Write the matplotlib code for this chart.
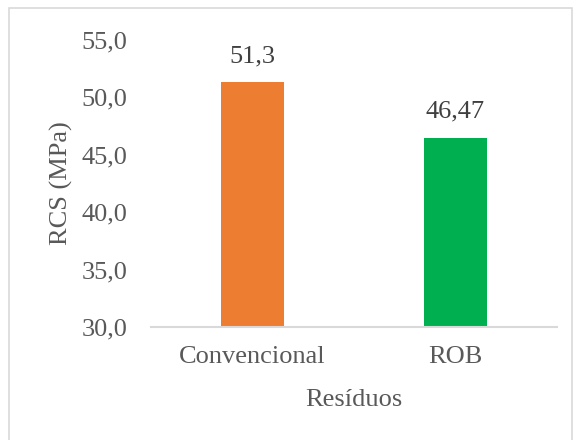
import matplotlib.pyplot as plt
from matplotlib.patches import Rectangle

categorias = ['Convencional', 'ROB']
rcs = [51.3, 46.47]
rotulos = ['51,3', '46,47']
cores = ['#ED7D31', '#00B050']
yticks = [30, 35, 40, 45, 50, 55]

plt.rcParams['font.family'] = ['Liberation Serif', 'DejaVu Serif']

fig = plt.figure(figsize=(5.74, 4.40), dpi=100)
ax = fig.add_axes([151 / 574, 1 - 327 / 440, 406 / 574, 287 / 440])

x = range(len(categorias))
bars = ax.bar(x, rcs, width=0.315, color=cores, bottom=0)
for b, txt in zip(bars, rotulos):
    ax.annotate(txt, (b.get_x() + b.get_width() / 2, b.get_height()),
                xytext=(0, 11), textcoords='offset points',
                ha='center', va='bottom', fontsize=19, color='#404040')

ax.set_xlim(-0.5, 1.5)
ax.set_ylim(30, 55)
ax.set_yticks(yticks)
ax.set_yticklabels([f'{v:.1f}'.replace('.', ',') for v in yticks])
ax.set_xticks(list(x))
ax.set_xticklabels(categorias)
ax.tick_params(axis='both', length=0, labelsize=19, labelcolor='#595959')
ax.tick_params(axis='y', pad=17)
ax.tick_params(axis='x', pad=14)

for s in ['top', 'right', 'left']:
    ax.spines[s].set_visible(False)
ax.spines['bottom'].set_color('#D9D9D9')
ax.spines['bottom'].set_linewidth(1.5)

ax.set_ylabel('RCS (MPa)', fontsize=19, color='#595959', labelpad=6)
ax.set_xlabel('Resíduos', fontsize=19, color='#595959', labelpad=15)

fig.patches.append(Rectangle((9 / 574, -0.05), 563 / 574, 1.05 - 8 / 440,
                             transform=fig.transFigure, fill=False,
                             edgecolor='#D9D9D9', linewidth=1.2))

fig.savefig('out.png', dpi=100)
